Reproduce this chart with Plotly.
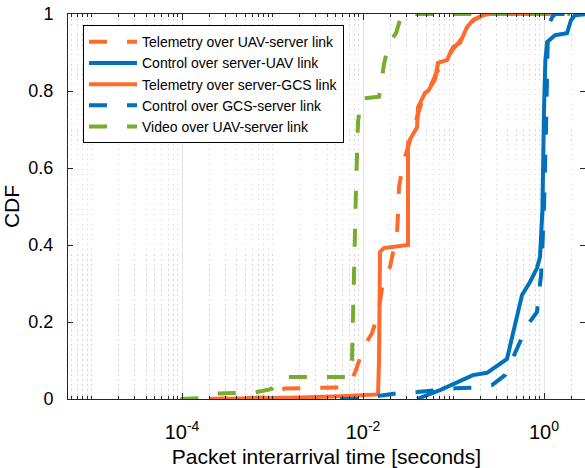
import plotly.graph_objects as go

# Packet inter-arrival times (seconds) and their empirical CDF values
tele_uav_srv_x = [1.99e-4, 9.4e-4, 1.21e-3, 1.37e-3, 5.57e-3, 6.83e-3, 7.56e-3, 8.59e-3,
                  0.0100, 0.01257, 0.01466, 0.01663, 0.01988, 0.02203, 0.02375, 0.02436,
                  0.02499, 0.02767, 0.03142, 0.03476, 0.04055, 0.04721, 0.05497, 0.06572,
                  0.08054, 0.09622, 0.1180, 0.1374, 0.1685, 0.2286, 1.6]
tele_uav_srv_y = [0, 0.004, 0.024, 0.027, 0.030, 0.040, 0.050, 0.083,
                  0.132, 0.171, 0.22, 0.304, 0.343, 0.39, 0.43, 0.48,
                  0.55, 0.61, 0.65, 0.69, 0.74, 0.79, 0.81, 0.85,
                  0.875, 0.905, 0.93, 0.96, 0.985, 1.0, 1.0]

ctrl_srv_uav_x = [0.03954, 0.07091, 0.1642, 0.2345, 0.3899, 0.5715, 0.6999, 0.8368,
                  0.9033, 0.9265, 0.960, 1.000, 1.035, 1.085, 1.323, 1.796, 1.987,
                  2.20, 3.0]
ctrl_srv_uav_y = [0, 0.023, 0.062, 0.068, 0.104, 0.27, 0.304, 0.34,
                  0.369, 0.43, 0.49, 0.75, 0.88, 0.927, 0.945, 0.95, 0.984,
                  0.997, 1.0]

tele_srv_gcs_x = [1.99e-4, 1.21e-3, 2.01e-3, 5.57e-3, 0.01466, 0.01503, 0.01541, 0.0170,
                  0.02564, 0.0314, 0.0314, 0.03954, 0.04055, 0.04842, 0.05227, 0.06244,
                  0.06742, 0.08476, 0.09869, 0.1180, 0.1410, 0.1642, 0.2118, 0.2531, 1.6]
tele_srv_gcs_y = [0, 0.002, 0.004, 0.007, 0.012, 0.10, 0.382, 0.392,
                  0.396, 0.40, 0.665, 0.706, 0.758, 0.795, 0.80, 0.83,
                  0.873, 0.88, 0.914, 0.925, 0.966, 0.984, 0.997, 1.0, 1.0]

ctrl_gcs_srv_x = [5.57e-3, 8.81e-3, 0.01466, 0.02375, 0.03954, 0.1039, 0.1601, 0.2663,
                  0.3707, 0.4543, 0.5430, 0.6488, 0.8368, 0.8807, 0.9265, 0.9504,
                  0.9749, 1.0, 1.052, 1.079, 1.107, 1.257, 1.357, 3.0]
ctrl_gcs_srv_y = [0, 0.0, 0.008, 0.015, 0.018, 0.028, 0.029, 0.036,
                  0.062, 0.106, 0.148, 0.19, 0.226, 0.278, 0.32, 0.374,
                  0.42, 0.5, 0.7, 0.85, 0.97, 0.995, 1.0, 1.0]

video_uav_srv_x = [9.6e-5, 1.58e-4, 2.38e-4, 6.41e-4, 8.91e-4, 9.87e-4, 1.37e-3, 6.83e-3,
                   7.56e-3, 7.85e-3, 8.37e-3, 8.81e-3, 9.51e-3, 0.01503, 0.01581, 0.01706,
                   0.01938, 0.02316, 0.02564, 0.02767, 1.94]
video_uav_srv_y = [0, 0.002, 0.014, 0.017, 0.024, 0.027, 0.057, 0.057,
                   0.10, 0.30, 0.55, 0.72, 0.78, 0.785, 0.82, 0.87,
                   0.925, 0.95, 0.985, 1.0, 1.0]

series_names = ["Telemetry over UAV-server link", "Control over server-UAV link",
                "Telemetry over server-GCS link", "Control over GCS-server link",
                "Video over UAV-server link"]

x_major_ticks = [1e-4, 1e-2, 1]
x_major_text = ["10<sup>-4</sup>", "10<sup>-2</sup>", "10<sup>0</sup>"]
y_ticks = [0, 0.2, 0.4, 0.6, 0.8, 1]
y_tick_text = ["0", "0.2", "0.4", "0.6", "0.8", "1"]

ORANGE = "#FF6B2B"
BLUE = "#0072BD"
GREEN = "#77AC30"
DASH = "18px,20px"
FONT = "Liberation Sans, Arial, Helvetica, sans-serif"
AXC = "#262626"

styles = [(ORANGE, DASH), (BLUE, "solid"), (ORANGE, "solid"), (BLUE, DASH), (GREEN, DASH)]
data = [(tele_uav_srv_x, tele_uav_srv_y), (ctrl_srv_uav_x, ctrl_srv_uav_y),
        (tele_srv_gcs_x, tele_srv_gcs_y), (ctrl_gcs_srv_x, ctrl_gcs_srv_y),
        (video_uav_srv_x, video_uav_srv_y)]

fig = go.Figure()
for name, (xs, ys), (col, dash) in zip(series_names, data, styles):
    fig.add_trace(go.Scatter(x=xs, y=ys, mode="lines", name=name,
                             line=dict(color=col, width=4, dash=dash)))

# minor log ticks: every k*10^n not already a labelled decade
minor_vals = [k * 10.0 ** n for n in range(-6, 1) for k in range(1, 10)
              if not (k == 1 and 10.0 ** n in x_major_ticks)]

fig.update_layout(
    width=585, height=468,
    margin=dict(l=68, r=0, t=14, b=69),
    paper_bgcolor="white", plot_bgcolor="white",
    font=dict(family=FONT, size=18, color=AXC),
    showlegend=True,
    legend=dict(x=0.029, y=0.971, xanchor="left", yanchor="top",
                bgcolor="white", bordercolor="#000000", borderwidth=1,
                font=dict(family=FONT, size=14, color="#000000"),
                itemwidth=48, tracegroupgap=0),
    xaxis=dict(type="log", range=[-5.26, 0.453],
               tickvals=x_major_ticks, ticktext=x_major_text,
               ticks="inside", ticklen=6, tickcolor=AXC,
               showline=True, linecolor=AXC, linewidth=1, mirror="ticks",
               showgrid=True, gridcolor="#e3e3e3", gridwidth=1,
               zeroline=False, ticklabelstandoff=15,
               tickfont=dict(size=20, color="#000000"),
               minor=dict(tickvals=minor_vals, ticks="inside", ticklen=3,
                          tickcolor=AXC, showgrid=True, gridcolor="#d6d6d6",
                          griddash="1.5px,3.5px", gridwidth=1),
               title=dict(text="Packet interarrival time [seconds]",
                          font=dict(size=21, color="#000000"), standoff=10)),
    yaxis=dict(range=[0, 1], tickvals=y_ticks, ticktext=y_tick_text,
               ticks="inside", ticklen=5, tickcolor=AXC,
               showline=True, linecolor=AXC, linewidth=1, mirror="ticks",
               showgrid=False, zeroline=False, ticklabelstandoff=10,
               tickfont=dict(size=18, color="#000000"),
               title=dict(text="CDF", font=dict(size=21, color="#000000"), standoff=8)),
)

fig.write_html("out.html")
